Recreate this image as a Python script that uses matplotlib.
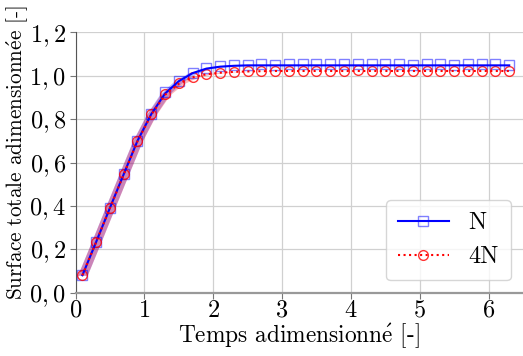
import matplotlib
matplotlib.use("Agg")
import matplotlib.pyplot as plt
from matplotlib.lines import Line2D
import numpy as np

plt.rcParams['font.family'] = 'serif'
plt.rcParams['font.serif'] = ['cmr10']
plt.rcParams['mathtext.fontset'] = 'cm'
plt.rcParams['axes.unicode_minus'] = False

# ---- data ----
t = [0.1, 0.3, 0.5, 0.7, 0.9, 1.1, 1.3, 1.5, 1.7, 1.9, 2.1, 2.3, 2.5, 2.7, 2.9, 3.1,
     3.3, 3.5, 3.7, 3.9, 4.1, 4.3, 4.5, 4.7, 4.9, 5.1, 5.3, 5.5, 5.7, 5.9, 6.1, 6.3]

mark_N = [0.080, 0.234, 0.391, 0.546, 0.700, 0.823, 0.926, 0.976, 1.014, 1.037, 1.046, 1.050,
          1.049, 1.052, 1.051, 1.053, 1.052, 1.054, 1.053, 1.052, 1.054, 1.053, 1.052, 1.054,
          1.051, 1.052, 1.053, 1.051, 1.052, 1.053, 1.052, 1.051]
mark_4N = [0.080, 0.234, 0.390, 0.545, 0.698, 0.822, 0.914, 0.965, 0.995, 1.009, 1.011, 1.017,
           1.020, 1.022, 1.023, 1.024, 1.023, 1.024, 1.023, 1.024, 1.025, 1.023, 1.024, 1.023,
           1.024, 1.023, 1.024, 1.023, 1.024, 1.023, 1.024, 1.023]

line_N = [0.080, 0.234, 0.391, 0.546, 0.700, 0.823, 0.918, 0.975, 1.012, 1.033, 1.042, 1.046,
          1.048, 1.048, 1.048, 1.048, 1.048, 1.048, 1.048, 1.048, 1.048, 1.048, 1.048, 1.048,
          1.048, 1.048, 1.048, 1.048, 1.048, 1.048, 1.048, 1.048]
line_4N = [0.080, 0.234, 0.390, 0.545, 0.698, 0.820, 0.912, 0.963, 0.993, 1.007, 1.014, 1.018,
           1.020, 1.021, 1.022, 1.022, 1.022, 1.022, 1.022, 1.022, 1.022, 1.022, 1.022, 1.022,
           1.022, 1.022, 1.022, 1.022, 1.022, 1.022, 1.022, 1.022]
dt_band = 0.07  # time uncertainty half-width

xticks = [0, 1, 2, 3, 4, 5, 6]
yticks = [0.0, 0.2, 0.4, 0.6, 0.8, 1.0, 1.2]
ytick_labels = ['$0,0$', '$0,2$', '$0,4$', '$0,6$', '$0,8$', '$1,0$', '$1,2$']
xtick_labels = ['$0$', '$1$', '$2$', '$3$', '$4$', '$5$', '$6$']

fs = 17.5

fig = plt.figure(figsize=(5.23, 3.56), dpi=100)
ax = fig.add_axes([0.1444, 0.178, 0.8556, 0.731])

tt = np.array(t)
ax.fill_betweenx(line_N, tt - dt_band, tt + dt_band, color='blue', alpha=0.28, lw=0, zorder=2)
ax.fill_betweenx(line_4N, tt - dt_band, tt + dt_band, color='red', alpha=0.28, lw=0, zorder=2)

ax.plot(t, line_N, '-', color='blue', lw=1.5, zorder=4)
ax.plot(t, line_4N, ':', color='red', lw=1.5, zorder=4)
ax.plot(t, mark_N, 's', mfc='none', mec='blue', ms=7, mew=1.0, alpha=0.5, zorder=3)
ax.plot(t, mark_4N, 'o', mfc='none', mec='red', ms=7, mew=1.0, alpha=0.8, zorder=3)

ax.set_xlim(0, 6.5)
ax.set_ylim(0, 1.2)
ax.set_xticks(xticks)
ax.set_xticklabels(xtick_labels, fontsize=fs)
ax.set_yticks(yticks)
ax.set_yticklabels(ytick_labels, fontsize=fs)
ax.grid(True, color='#d0d0d0', lw=0.9)
ax.set_axisbelow(True)

for s in ['top', 'right']:
    ax.spines[s].set_visible(False)
ax.spines['left'].set_color('#555555')
ax.spines['left'].set_linewidth(0.8)
ax.spines['bottom'].set_color('#999999')
ax.spines['bottom'].set_linewidth(1.6)
ax.tick_params(axis='both', direction='out', length=4, width=0.8, color='#777777')
ax.tick_params(axis='x', pad=1)
ax.tick_params(axis='y', pad=3)

xl = ax.set_xlabel('Temps adimensionn$\\acute{\\mathrm{e}}$ [-]', fontsize=fs)
yl = ax.set_ylabel('Surface totale adimensionn$\\acute{\\mathrm{e}}$e [-]', fontsize=fs)

# scale label fonts so their lengths match the reference (242 px and 295 px)
fig.canvas.draw()
r = fig.canvas.get_renderer()
wx = xl.get_window_extent(r).width
hy = yl.get_window_extent(r).height
xl.set_fontsize(fs * 242.0 / wx)
yl.set_fontsize(fs * 295.0 / hy)
H = 356.0
ax_h_px = 0.731 * H
ax.xaxis.set_label_coords(0.5, -(342.0 - 292.4) / ax_h_px)
xl.set_va('baseline')
ax.yaxis.set_label_coords(-(75.5 - 4.5) / (0.8556 * 523), (292.4 - 152.5) / ax_h_px)
yl.set_va('top')

handles = [
    Line2D([0], [0], color='blue', ls='-', lw=1.5, marker='s', mfc='none', mec=(0, 0, 1, 0.5), ms=7),
    Line2D([0], [0], color='red', ls=':', lw=1.5, marker='o', mfc='none', mec=(1, 0, 0, 0.8), ms=7),
]
leg = ax.legend(handles, ['N', '4N'], loc='lower right', fontsize=fs, handlelength=2.1,
                handletextpad=0.8, labelspacing=0.5, borderpad=0.5, fancybox=True,
                framealpha=0.8, edgecolor='#cccccc', markerscale=1.0)

fig.savefig('out.png', dpi=100)
